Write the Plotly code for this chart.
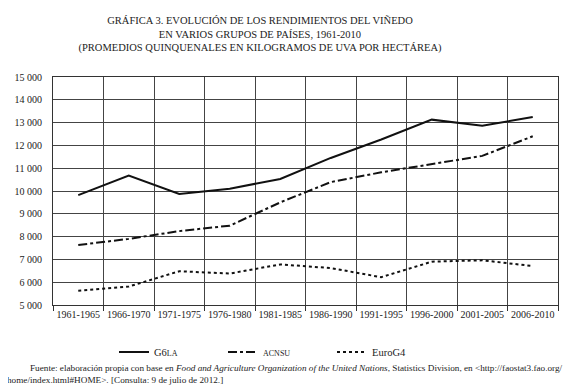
import plotly.graph_objects as go

categories = ["1961-1965", "1966-1970", "1971-1975", "1976-1980", "1981-1985",
              "1986-1990", "1991-1995", "1996-2000", "2001-2005", "2006-2010"]
g6la = [9820, 10680, 9870, 10100, 10530, 11450, 12260, 13130, 12860, 13250]
acnsu = [7630, 7900, 8240, 8480, 9500, 10390, 10820, 11190, 11540, 12400]
eurog4 = [5630, 5810, 6480, 6380, 6780, 6620, 6220, 6900, 6960, 6710]
y_ticks = [5000, 6000, 7000, 8000, 9000, 10000, 11000, 12000, 13000, 14000, 15000]
y_labels = ["5 000", "6 000", "7 000", "8 000", "9 000", "10 000", "11 000",
            "12 000", "13 000", "14 000", "15 000"]

FONT = "Liberation Serif"
OFF = 8  # page body margin of the browser
W, H = 580 - OFF, 389 - OFF
fig = go.Figure()
fig.add_trace(go.Scatter(x=categories, y=g6la, mode="lines",
                         name="G6<span style='font-size:8px'>LA</span>",
                         line=dict(color="#111", width=2, dash="solid")))
fig.add_trace(go.Scatter(x=categories, y=acnsu, mode="lines",
                         name="<span style='font-size:8px'>ACNSU</span>",
                         line=dict(color="#111", width=2, dash="dashdot")))
fig.add_trace(go.Scatter(x=categories, y=eurog4, mode="lines",
                         name="EuroG4",
                         line=dict(color="#111", width=2, dash="dot")))

fig.update_layout(
    width=W, height=H,
    margin=dict(l=53 - OFF, r=22, t=77 - OFF, b=84, autoexpand=False),
    paper_bgcolor="white", plot_bgcolor="white",
    font=dict(family=FONT, size=10, color="#222"),
    title=dict(text="GRÁFICA 3. EVOLUCIÓN DE LOS RENDIMIENTOS DEL VIÑEDO<br>"
                    "EN VARIOS GRUPOS DE PAÍSES, 1961-2010<br>"
                    "(PROMEDIOS QUINQUENALES EN KILOGRAMOS DE UVA POR HECTÁREA)",
               xref="container", yref="container",
               x=(260 - OFF) / W, xanchor="center", y=1 - 16 / H, yanchor="top",
               font=dict(family=FONT, size=10.5, color="#222")),
    showlegend=True,
    legend=dict(orientation="h", xref="container", yref="container",
                x=(114 - OFF) / W, xanchor="left", y=1 - (352 - OFF) / H, yanchor="middle",
                entrywidth=64, entrywidthmode="pixels",
                font=dict(family=FONT, size=10.5, color="#222"),
                bgcolor="rgba(0,0,0,0)"),
    xaxis=dict(type="category", tickson="boundaries", ticks="outside", ticklen=5,
               tickcolor="#333", showgrid=True, gridcolor="#444", gridwidth=1,
               showline=True, linecolor="#333", linewidth=1, mirror=True,
               tickangle=0, automargin=False,
               tickfont=dict(family=FONT, size=10, color="#222"),
               range=[-0.5, 9.5]),
    yaxis=dict(range=[5000, 15000], tickvals=y_ticks, ticktext=y_labels,
               showgrid=True, gridcolor="#444", gridwidth=1,
               showline=True, linecolor="#333", linewidth=1, mirror=True,
               ticks="", ticklabelstandoff=8, zeroline=False, automargin=False,
               tickfont=dict(family=FONT, size=10, color="#222")),
    annotations=[
        dict(text="Fuente: elaboración propia con base en <i>Food and Agriculture Organization of the United Nations</i>, "
                  "Statistics Division, en &lt;http://faostat3.fao.org/",
             xref="paper", yref="paper", x=(28 - 53) / 505, y=-(368 - 305) / 228,
             xanchor="left", yanchor="middle", showarrow=False,
             font=dict(family=FONT, size=9.2, color="#222")),
        dict(text="home/index.html#HOME&gt;. [Consulta: 9 de julio de 2012.]",
             xref="paper", yref="paper", x=(5 - 53) / 505, y=-(380 - 305) / 228,
             xanchor="left", yanchor="middle", showarrow=False,
             font=dict(family=FONT, size=9.2, color="#222")),
    ],
)
fig.write_html("out.html")
